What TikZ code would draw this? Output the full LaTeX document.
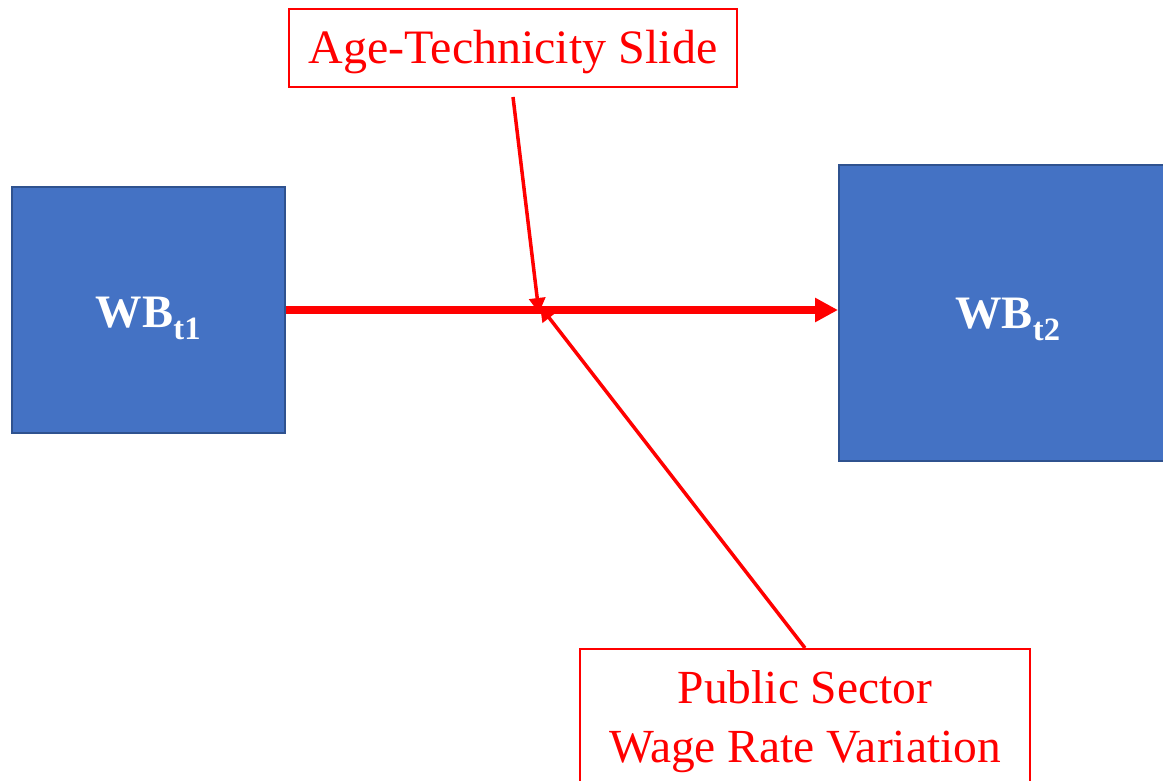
\documentclass[tikz,border=0pt]{standalone}
\usepackage{fontspec}
\setmainfont{Liberation Serif}
\usetikzlibrary{arrows.meta}
\definecolor{boxblue}{HTML}{4472C4}
\definecolor{boxedge}{HTML}{2F528F}
\definecolor{myred}{HTML}{FF0000}
\tikzset{
  wbbox/.style={draw=boxedge, line width=2pt, fill=boxblue, text=white, font=\fontsize{46.5}{52}\selectfont\bfseries, inner sep=0pt},
  redbox/.style={draw=myred, line width=2pt, fill=white, text=myred, font=\fontsize{48}{59}\selectfont, align=center, inner sep=0pt},
  mainarrow/.style={draw=myred, line width=7.5pt, -{Triangle[length=23pt,width=23pt]}},
  thinarrow/.style={draw=myred, line width=3.5pt, -{Triangle[length=15pt,width=16pt]}}
}
\begin{document}
\begin{tikzpicture}[x=1pt,y=-1pt]
\useasboundingbox (0,0) rectangle (1163,781);
\node[wbbox, minimum width=273pt, minimum height=246pt, text height=40pt, text depth=6pt] (wb1) at (148.5,310) {WB\textsubscript{t1}};
\node[wbbox, minimum width=338pt, minimum height=296pt, text height=38pt, text depth=8pt] (wb2) at (1008,313) {WB\textsubscript{t2}};
\node[redbox, minimum width=448pt, minimum height=78pt, text height=40pt, text depth=8pt] (age) at (513,48) {Age-Technicity Slide};
\node[redbox, minimum width=450pt, minimum height=160pt, anchor=north] (pub) at (805,648) {};
\node[text=myred, font=\fontsize{47.5}{59}\selectfont, align=center, anchor=base, inner sep=0pt] (publabel) at (805,762) {Public Sector\\Wage Rate Variation};
\coordinate (hit) at (539,310);
\coordinate (agestart) at (513,97);
\draw[mainarrow] (wb1.east |- hit) -- (wb2.west |- hit);
\draw[thinarrow] (agestart) -- ([yshift=-3pt]hit);
\draw[thinarrow] (pub.north) -- ([xshift=1pt,yshift=4pt]hit);
\end{tikzpicture}
\end{document}
